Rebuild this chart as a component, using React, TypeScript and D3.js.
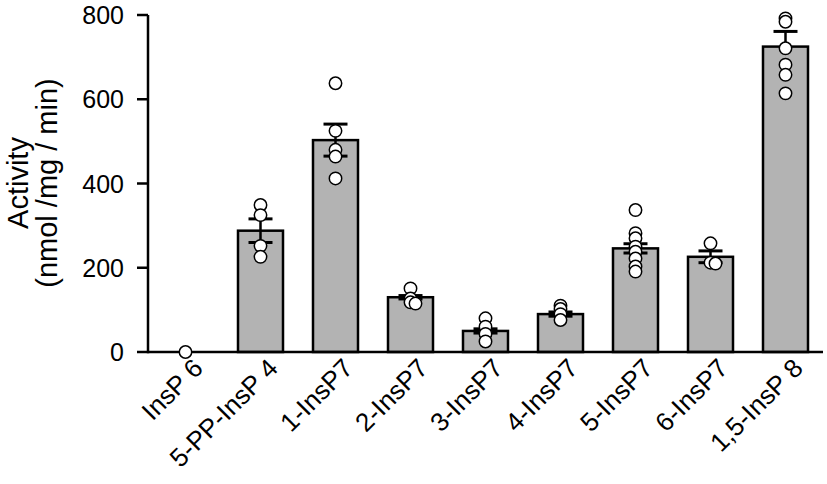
import React from "react";
import * as d3 from "d3";

const categories = ["InsP 6", "5-PP-InsP 4", "1-InsP7", "2-InsP7", "3-InsP7", "4-InsP7", "5-InsP7", "6-InsP7", "1,5-InsP 8"];
const means = [0, 288, 503, 130, 50, 90, 246, 226, 725];
const errUp = [0, 28, 38, 4, 5, 5, 11, 14, 36];
const errDown = [0, 28, 38, 4, 5, 5, 11, 14, 0];
const pointsInsP6 = [0];
const points5PP = [349, 325, 252, 226];
const points1 = [638, 525, 480, 464, 412];
const points2 = [151, 127, 118, 115];
const points3 = [80, 60, 43, 25];
const points4 = [110, 102, 90, 76];
const points5 = [337, 282, 270, 250, 238, 222, 203, 191];
const points6 = [258, 212, 210];
const points15 = [792, 784, 721, 682, 658, 614];
const pointSets = [pointsInsP6, points5PP, points1, points2, points3, points4, points5, points6, points15];
const yTicks = [0, 200, 400, 600, 800];

const W = 827, H = 484;
const FONT = "'Liberation Sans', Arial, sans-serif";

export default function App() {
  const x = d3.scaleBand<string>().domain(categories).range([148, 823]).paddingInner(0.4).paddingOuter(0.2);
  const y = d3.scaleLinear().domain([0, 800]).range([352, 15]);
  const bw = x.bandwidth();
  const cx = (c: string) => (x(c) as number) + bw / 2;
  const capW = 24;

  return (
    <svg width={W} height={H} style={{ position: "absolute", left: 0, top: 0, background: "#fff" }} fontFamily={FONT}>
      {/* bars */}
      {categories.map((c, i) =>
        means[i] > 0 ? (
          <rect key={c} x={x(c)} y={y(means[i])} width={bw} height={y(0) - y(means[i])}
            fill="#b3b3b3" stroke="#000" strokeWidth={2.5} />
        ) : null
      )}
      {/* error bars */}
      {categories.map((c, i) => {
        const hi = means[i] + errUp[i];
        const lo = means[i] - errDown[i];
        if (errUp[i] <= 0 && errDown[i] <= 0) return null;
        return (
          <g key={c} stroke="#000">
            <line x1={cx(c)} x2={cx(c)} y1={y(lo)} y2={y(hi)} strokeWidth={2.5} />
            {errUp[i] > 0 && <line x1={cx(c) - capW / 2} x2={cx(c) + capW / 2} y1={y(hi)} y2={y(hi)} strokeWidth={3} />}
            {errDown[i] > 0 && <line x1={cx(c) - capW / 2} x2={cx(c) + capW / 2} y1={y(lo)} y2={y(lo)} strokeWidth={3} />}
          </g>
        );
      })}
      {/* axes */}
      <line x1={148} x2={823} y1={y(0)} y2={y(0)} stroke="#000" strokeWidth={2.5} />
      <line x1={148} x2={148} y1={y(0) + 1.25} y2={y(800)} stroke="#000" strokeWidth={2.5} />
      {yTicks.map((t) => (
        <g key={t}>
          <line x1={137} x2={148} y1={y(t)} y2={y(t)} stroke="#000" strokeWidth={2.5} />
          <text x={124} y={y(t)} dy="0.36em" textAnchor="end" fontSize={25}>{t}</text>
        </g>
      ))}
      {/* points */}
      {categories.map((c, i) => {
        const pts = pointSets[i];
        let prev: number | null = null;
        let k = 0;
        return pts.map((v, j) => {
          let dx = 0;
          if (prev !== null && Math.abs(y(v) - y(prev)) < 3) {
            k++;
            dx = (k % 2 === 1 ? 1 : -1) * 5;
          }
          prev = v;
          return (
            <circle key={c + j} cx={cx(c) + dx} cy={y(v)} r={6.2} fill="#fff" stroke="#000" strokeWidth={1.5} />
          );
        });
      })}
      {/* x labels */}
      {categories.map((c) => (
        <text key={c} transform={`translate(${cx(c) + 6},${y(0) + 5}) rotate(-45)`} textAnchor="end" dy="0.7em" fontSize={26}>{c}</text>
      ))}
      {/* y title */}
      <text transform={`translate(28,183) rotate(-90)`} textAnchor="middle" fontSize={29}>Activity</text>
      <text transform={`translate(57,183) rotate(-90)`} textAnchor="middle" fontSize={29}>(nmol /mg / min)</text>
    </svg>
  );
}
